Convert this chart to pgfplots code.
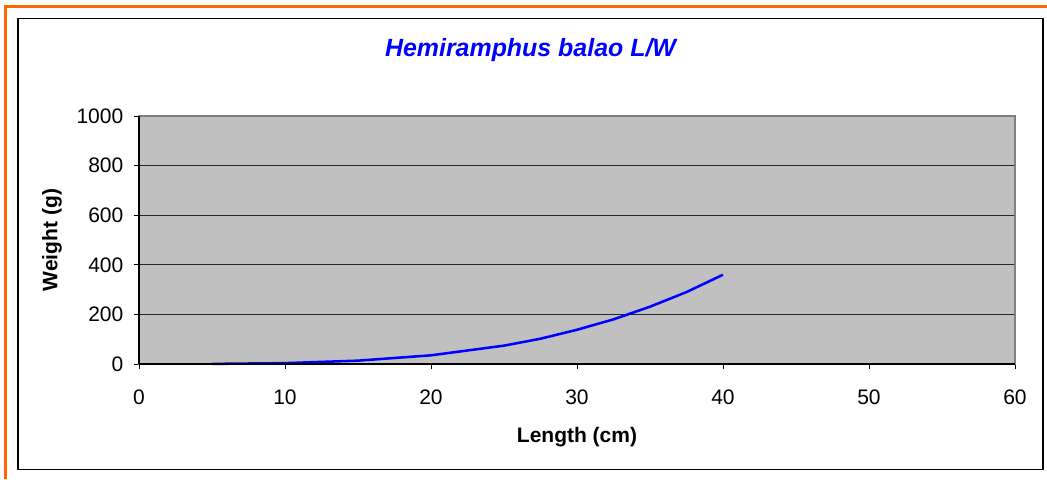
\documentclass[border=0pt]{standalone}
\usepackage{pgfplots}
\pgfplotsset{compat=1.18}
\usepackage{fontspec}
\setmainfont{Liberation Sans}
\definecolor{xlorange}{HTML}{FF6600}
\definecolor{plotgray}{HTML}{C0C0C0}
\definecolor{ttlblue}{HTML}{0000FF}
\begin{document}
\begin{tikzpicture}
\useasboundingbox (0,0) rectangle (785.25pt,359.25pt);
\draw[xlorange, line width=2.25pt] (3pt,354.2pt) -- (785.25pt,354.2pt);
\draw[xlorange, line width=2.25pt] (4pt,355.3pt) -- (4pt,0pt);
\draw[black, line width=1.1pt] (13.35pt,7.3pt) rectangle (782.25pt,345.5pt);
\begin{axis}[
  at={(104.25pt,86.25pt)}, anchor=south west,
  scale only axis, width=657pt, height=186pt,
  xmin=0, xmax=60, ymin=0, ymax=1000,
  xtick={0,10,...,60}, ytick={0,200,...,1000},
  axis background/.style={fill=plotgray},
  axis line style={draw=gray, line width=0.8pt},
  ymajorgrids, grid style={black!85, line width=0.6pt},
  tick align=outside, major tick length=3.75pt,
  xtick pos=left, ytick pos=left,
  tick style={black, line width=0.6pt},
  /pgf/number format/assume math mode=true,
  /pgf/number format/1000 sep={},
  tick label style={font=\fontsize{15.75}{18}\selectfont},
  yticklabel style={xshift=-4.5pt},
  xticklabel style={yshift=-12pt},
  clip=false,
]
\addplot[ttlblue, line width=1.9pt] coordinates {
(5,0.4) (10,3.5) (15,13.5) (20,35) (25,74) (27.5,102) (30,138) (32.5,180) (35,231) (37.5,290) (40,360)
};
\end{axis}
\draw[black, line width=0.8pt] (104.25pt,86.25pt) -- (104.25pt,272.25pt);
\draw[black, line width=0.8pt] (104.25pt,86.25pt) -- (761.25pt,86.25pt);
\node[text=ttlblue, font=\fontsize{18.7}{22}\selectfont\bfseries\itshape] at (397.9pt,321.75pt) {Hemiramphus balao L/W};
\node[rotate=90, font=\fontsize{15.75}{18}\selectfont\bfseries] at (39pt,179.25pt) {Weight (g)};
\node[font=\fontsize{15.75}{18}\selectfont\bfseries] at (432.75pt,31.5pt) {Length (cm)};
\end{tikzpicture}
\end{document}
